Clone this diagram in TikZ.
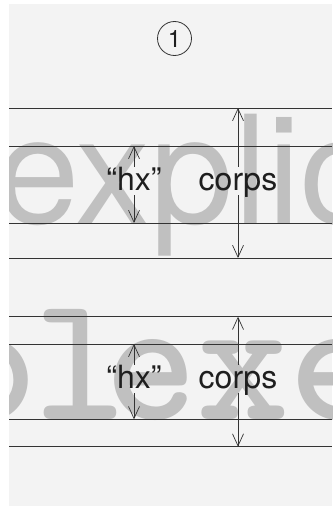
\documentclass[tikz,border=0pt]{standalone}
\usepackage{fontspec}
\setmainfont{TeX Gyre Heros}
\newfontfamily\darkmono{lmmonolt10-bold.otf}
\usetikzlibrary{arrows.meta}
\definecolor{bgc}{HTML}{F3F3F3}
\definecolor{bigc}{HTML}{C0C0C0}
\definecolor{linec}{HTML}{333333}
\definecolor{txtc}{HTML}{1E1E1E}
\tikzset{
  guide/.style={draw=linec, line width=0.8pt},
  dim/.style={draw=linec, line width=0.7pt, -{Straight Barb[length=12pt,width=11pt]}},
  lbl/.style={font=\fontsize{32}{32}\selectfont, text=txtc, inner sep=0pt,
              text height=23pt, text depth=5pt, anchor=base},
  bigsans/.style={font=\fontsize{150}{150}\selectfont, text=bigc, inner sep=0pt, anchor=base west},
  bigmono/.style={font=\darkmono\fontsize{175}{175}\selectfont, text=bigc, inner sep=0pt, anchor=base west},
}
\begin{document}
\begin{tikzpicture}[x=1pt,y=-1pt]
\useasboundingbox (0,0) rectangle (332,506);
\fill[bgc] (9,4) rectangle (332,506);
\begin{scope}
  \clip (9,4) rectangle (332,506);
  \node[bigsans] (w1) at (-4,223) {explic};
  \node[bigmono] (w2) at (-58,419.3) {\scalebox{1}[1.03]{pl\kern-20pt exe}};
\end{scope}
% guide lines
\foreach \y/\n in {108/a,146/b,223/c,258/d,316.7/e,344/f,419.3/g,446.7/h}{
  \coordinate (l\n w) at (9,\y);
  \coordinate (l\n e) at (332,\y);
  \draw[guide] (l\n w) -- (l\n e);
}
% circled number
\node[circle, draw=linec, line width=0.8pt, minimum size=34pt, inner sep=0pt,
      text=txtc, font=\fontsize{24}{24}\selectfont] (num) at (174.5,38.5) {1};
% labels, first block
\node[lbl] (hx1) at (134,190) {“hx”};
\node[lbl] (co1) at (238,190) {corps};
\draw[dim] (hx1.north) -- (hx1.north |- lbw);
\draw[dim] (hx1.south) -- (hx1.south |- lcw);
\draw[dim] (co1.north) -- (co1.north |- law);
\draw[dim] (co1.south) -- (co1.south |- ldw);
% labels, second block
\node[lbl] (hx2) at (134,388) {“hx”};
\node[lbl] (co2) at (238,388) {corps};
\draw[dim] (hx2.north) -- (hx2.north |- lfw);
\draw[dim] (hx2.south) -- (hx2.south |- lgw);
\draw[dim] (co2.north) -- (co2.north |- lew);
\draw[dim] (co2.south) -- (co2.south |- lhw);
\end{tikzpicture}
\end{document}
